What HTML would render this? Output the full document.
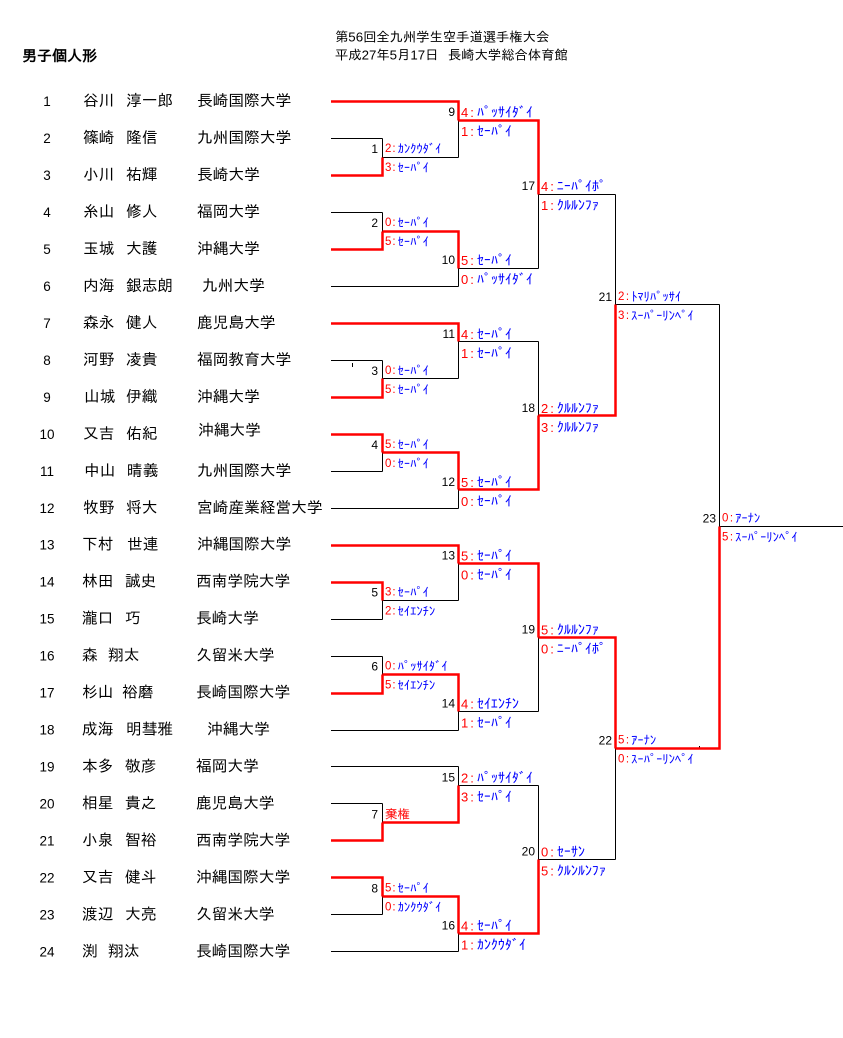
<!DOCTYPE html>
<html><head><meta charset="utf-8">
<style>
html,body{margin:0;padding:0;background:#fff;}
svg{display:block;}
text{font-family:"Liberation Sans","IPAGothic","Noto Sans CJK JP",sans-serif;dominant-baseline:central;fill:#000;}
.num{font-size:13.5px;text-anchor:middle;}
.nm{font-size:15.7px;}
.ttl{font-size:13.3px;}
.hd{font-size:15px;font-weight:bold;}
.n{font-size:12px;text-anchor:end;}
.r1{fill:#f00;font-size:11.5px;}
.b1{fill:#00f;font-size:12.5px;}
.r2{fill:#f00;font-size:13px;}
.b2{fill:#00f;font-size:14px;}
.kk{fill:#f00;font-size:12.5px;}
</style></head><body>
<svg width="843" height="1038" viewBox="0 0 843 1038" xmlns="http://www.w3.org/2000/svg">
<rect width="843" height="1038" fill="#fff"/>

<!-- header -->
<text class="hd" x="22" y="56.5">男子個人形</text>
<text class="ttl" x="335" y="37">第56回全九州学生空手道選手権大会</text>
<text class="ttl" x="335" y="55">平成27年5月17日</text>
<text class="ttl" x="448" y="55">長崎大学総合体育館</text>

<!-- black bracket lines -->
<path fill="none" stroke="#000" stroke-width="1" d="
M331 138.5H382.5 M331 175.5H382.5 M331 212.5H382.5 M331 249.5H382.5
M331 360.5H382.5 M331 397.5H382.5 M331 434.5H382.5 M331 471.5H382.5
M331 582.5H382.5 M331 619.5H382.5 M331 656.5H382.5 M331 693.5H382.5
M331 803.5H382.5 M331 840.5H382.5 M331 877.5H382.5 M331 914.5H382.5
M331 101.5H458.5 M331 286.5H458.5 M331 323.5H458.5 M331 508.5H458.5
M331 545.5H458.5 M331 730.5H458.5 M331 766.5H458.5 M331 951.5H458.5
M382.5 138.5V175.5 M382.5 212.5V249.5 M382.5 360.5V397.5 M382.5 434.5V471.5
M382.5 582.5V619.5 M382.5 656.5V693.5 M382.5 803.5V840.5 M382.5 877.5V914.5
M382.5 157.5H458.5 M382.5 231.5H458.5 M382.5 378.5H458.5 M382.5 452.5H458.5
M382.5 600.5H458.5 M382.5 674.5H458.5 M382.5 822.5H458.5 M382.5 896.5H458.5
M458.5 101.5V157.5 M458.5 231.5V286.5 M458.5 323.5V378.5 M458.5 452.5V508.5
M458.5 545.5V600.5 M458.5 674.5V730.5 M458.5 766.5V822.5 M458.5 896.5V951.5
M458.5 120.5H538.5 M458.5 268.5H538.5 M458.5 341.5H538.5 M458.5 489.5H538.5
M458.5 563.5H538.5 M458.5 711.5H538.5 M458.5 785.5H538.5 M458.5 933.5H538.5
M538.5 120.5V268.5 M538.5 341.5V489.5 M538.5 563.5V711.5 M538.5 785.5V933.5
M538.5 194.5H615.5 M538.5 415.5H615.5 M538.5 637.5H615.5 M538.5 859.5H615.5
M615.5 194.5V415.5 M615.5 637.5V859.5
M615.5 304.5H719.5 M615.5 748.5H719.5
M719.5 304.5V748.5
M719.5 526.5H843
M352.5 363V367
M699.5 746V748
"/>

<!-- red winner paths -->
<g fill="none" stroke="#f00" stroke-width="2.5" stroke-linejoin="miter">
<polyline points="331,175.5 382.5,175.5 382.5,157.5"/>
<polyline points="331,249.5 382.5,249.5 382.5,231.5"/>
<polyline points="331,397.5 382.5,397.5 382.5,378.5"/>
<polyline points="331,434.5 382.5,434.5 382.5,452.5"/>
<polyline points="331,582.5 382.5,582.5 382.5,600.5"/>
<polyline points="331,693.5 382.5,693.5 382.5,674.5"/>
<polyline points="331,840.5 382.5,840.5 382.5,822.5"/>
<polyline points="331,877.5 382.5,877.5 382.5,896.5"/>
<polyline points="331,101.5 458.5,101.5 458.5,120.5"/>
<polyline points="382.5,231.5 458.5,231.5 458.5,268.5"/>
<polyline points="331,323.5 458.5,323.5 458.5,341.5"/>
<polyline points="382.5,452.5 458.5,452.5 458.5,489.5"/>
<polyline points="331,545.5 458.5,545.5 458.5,563.5"/>
<polyline points="382.5,674.5 458.5,674.5 458.5,711.5"/>
<polyline points="382.5,822.5 458.5,822.5 458.5,785.5"/>
<polyline points="382.5,896.5 458.5,896.5 458.5,933.5"/>
<polyline points="458.5,120.5 538.5,120.5 538.5,194.5"/>
<polyline points="458.5,489.5 538.5,489.5 538.5,415.5"/>
<polyline points="458.5,563.5 538.5,563.5 538.5,637.5"/>
<polyline points="458.5,933.5 538.5,933.5 538.5,859.5"/>
<polyline points="538.5,415.5 615.5,415.5 615.5,304.5"/>
<polyline points="538.5,637.5 615.5,637.5 615.5,748.5"/>
<polyline points="615.5,748.5 719.5,748.5 719.5,526.5"/>
</g>

<!-- player list -->
<g>
<text class="num" x="47" y="101.7">1</text><text class="nm" x="83" y="101.7">谷川</text><text class="nm" x="126" y="101.7">淳一郎</text><text class="nm" x="197" y="101.7">長崎国際大学</text>
<text class="num" x="47" y="138.7">2</text><text class="nm" x="83" y="138.7">篠崎</text><text class="nm" x="126" y="138.7">隆信</text><text class="nm" x="197" y="138.7">九州国際大学</text>
<text class="num" x="47" y="175.6">3</text><text class="nm" x="83" y="175.6">小川</text><text class="nm" x="126" y="175.6">祐輝</text><text class="nm" x="197" y="175.6">長崎大学</text>
<text class="num" x="47" y="212.6">4</text><text class="nm" x="83" y="212.6">糸山</text><text class="nm" x="126" y="212.6">修人</text><text class="nm" x="197" y="212.6">福岡大学</text>
<text class="num" x="47" y="249.5">5</text><text class="nm" x="83" y="249.5">玉城</text><text class="nm" x="126" y="249.5">大護</text><text class="nm" x="197" y="249.5">沖縄大学</text>
<text class="num" x="47" y="286.5">6</text><text class="nm" x="83" y="286.5">内海</text><text class="nm" x="126" y="286.5">銀志朗</text><text class="nm" x="202" y="286.5">九州大学</text>
<text class="num" x="47" y="323.5">7</text><text class="nm" x="83" y="323.5">森永</text><text class="nm" x="126" y="323.5">健人</text><text class="nm" x="197" y="323.5">鹿児島大学</text>
<text class="num" x="47" y="360.4">8</text><text class="nm" x="83" y="360.4">河野</text><text class="nm" x="126" y="360.4">凌貴</text><text class="nm" x="197" y="360.4">福岡教育大学</text>
<text class="num" x="47" y="397.4">9</text><text class="nm" x="84" y="397.4">山城</text><text class="nm" x="126" y="397.4">伊織</text><text class="nm" x="197" y="397.4">沖縄大学</text>
<text class="num" x="47" y="434.3">10</text><text class="nm" x="83" y="434.3">又吉</text><text class="nm" x="126" y="434.3">佑紀</text><text class="nm" x="198" y="431">沖縄大学</text>
<text class="num" x="47" y="471.3">11</text><text class="nm" x="84" y="471.3">中山</text><text class="nm" x="127" y="471.3">晴義</text><text class="nm" x="197" y="471.3">九州国際大学</text>
<text class="num" x="47" y="508.3">12</text><text class="nm" x="83" y="508.3">牧野</text><text class="nm" x="126" y="508.3">将大</text><text class="nm" x="197" y="508.3">宮崎産業経営大学</text>
<text class="num" x="47" y="545.2">13</text><text class="nm" x="82" y="545.2">下村</text><text class="nm" x="127" y="545.2">世連</text><text class="nm" x="197" y="545.2">沖縄国際大学</text>
<text class="num" x="47" y="582.2">14</text><text class="nm" x="82" y="582.2">林田</text><text class="nm" x="125" y="582.2">誠史</text><text class="nm" x="196" y="582.2">西南学院大学</text>
<text class="num" x="47" y="619.1">15</text><text class="nm" x="82" y="619.1">瀧口</text><text class="nm" x="125" y="619.1">巧</text><text class="nm" x="196" y="619.1">長崎大学</text>
<text class="num" x="47" y="656.1">16</text><text class="nm" x="82" y="656.1">森</text><text class="nm" x="108" y="656.1">翔太</text><text class="nm" x="196" y="656.1">久留米大学</text>
<text class="num" x="47" y="693.1">17</text><text class="nm" x="82" y="693.1">杉山</text><text class="nm" x="122" y="693.1">裕磨</text><text class="nm" x="196" y="693.1">長崎国際大学</text>
<text class="num" x="47" y="730">18</text><text class="nm" x="82" y="730">成海</text><text class="nm" x="126" y="730">明彗雅</text><text class="nm" x="207" y="730">沖縄大学</text>
<text class="num" x="47" y="767">19</text><text class="nm" x="82" y="767">本多</text><text class="nm" x="125" y="767">敬彦</text><text class="nm" x="196" y="767">福岡大学</text>
<text class="num" x="47" y="803.9">20</text><text class="nm" x="82" y="803.9">相星</text><text class="nm" x="125" y="803.9">貴之</text><text class="nm" x="196" y="803.9">鹿児島大学</text>
<text class="num" x="47" y="840.9">21</text><text class="nm" x="82" y="840.9">小泉</text><text class="nm" x="125" y="840.9">智裕</text><text class="nm" x="196" y="840.9">西南学院大学</text>
<text class="num" x="47" y="877.9">22</text><text class="nm" x="82" y="877.9">又吉</text><text class="nm" x="125" y="877.9">健斗</text><text class="nm" x="196" y="877.9">沖縄国際大学</text>
<text class="num" x="47" y="914.8">23</text><text class="nm" x="82" y="914.8">渡辺</text><text class="nm" x="125" y="914.8">大亮</text><text class="nm" x="196" y="914.8">久留米大学</text>
<text class="num" x="47" y="951.8">24</text><text class="nm" x="82" y="951.8">渕</text><text class="nm" x="108" y="951.8">翔汰</text><text class="nm" x="196" y="951.8">長崎国際大学</text>
</g>

<!-- match numbers -->
<g>
<text class="n" x="378" y="149.1">1</text>
<text class="n" x="378" y="223.1">2</text>
<text class="n" x="378" y="370.9">3</text>
<text class="n" x="378" y="444.8">4</text>
<text class="n" x="378" y="592.7">5</text>
<text class="n" x="378" y="666.6">6</text>
<text class="n" x="378" y="814.4">7</text>
<text class="n" x="378" y="888.3">8</text>
<text class="n" x="455" y="112.2">9</text>
<text class="n" x="455" y="260">10</text>
<text class="n" x="455" y="333.9">11</text>
<text class="n" x="455" y="481.8">12</text>
<text class="n" x="455" y="555.7">13</text>
<text class="n" x="455" y="703.5">14</text>
<text class="n" x="455" y="777.5">15</text>
<text class="n" x="455" y="925.3">16</text>
<text class="n" x="535" y="186.1">17</text>
<text class="n" x="535" y="407.9">18</text>
<text class="n" x="535" y="629.6">19</text>
<text class="n" x="535" y="851.4">20</text>
<text class="n" x="612" y="297">21</text>
<text class="n" x="612" y="740.5">22</text>
<text class="n" x="716" y="518.7">23</text>
</g>

<!-- round 1 scores -->
<g>
<text x="385" y="149.1"><tspan class="r1">2</tspan><tspan class="r1" dx="1">:</tspan><tspan class="b1" dx="2">ｶﾝｸｳﾀﾞｲ</tspan></text>
<text x="385" y="168.1"><tspan class="r1">3</tspan><tspan class="r1" dx="1">:</tspan><tspan class="b1" dx="2">ｾｰﾊﾟｲ</tspan></text>
<text x="385" y="223.1"><tspan class="r1">0</tspan><tspan class="r1" dx="1">:</tspan><tspan class="b1" dx="2">ｾｰﾊﾟｲ</tspan></text>
<text x="385" y="242.1"><tspan class="r1">5</tspan><tspan class="r1" dx="1">:</tspan><tspan class="b1" dx="2">ｾｰﾊﾟｲ</tspan></text>
<text x="385" y="370.9"><tspan class="r1">0</tspan><tspan class="r1" dx="1">:</tspan><tspan class="b1" dx="2">ｾｰﾊﾟｲ</tspan></text>
<text x="385" y="389.9"><tspan class="r1">5</tspan><tspan class="r1" dx="1">:</tspan><tspan class="b1" dx="2">ｾｰﾊﾟｲ</tspan></text>
<text x="385" y="444.8"><tspan class="r1">5</tspan><tspan class="r1" dx="1">:</tspan><tspan class="b1" dx="2">ｾｰﾊﾟｲ</tspan></text>
<text x="385" y="463.8"><tspan class="r1">0</tspan><tspan class="r1" dx="1">:</tspan><tspan class="b1" dx="2">ｾｰﾊﾟｲ</tspan></text>
<text x="385" y="592.7"><tspan class="r1">3</tspan><tspan class="r1" dx="1">:</tspan><tspan class="b1" dx="2">ｾｰﾊﾟｲ</tspan></text>
<text x="385" y="611.7"><tspan class="r1">2</tspan><tspan class="r1" dx="1">:</tspan><tspan class="b1" dx="2">ｾｲｴﾝﾁﾝ</tspan></text>
<text x="385" y="666.6"><tspan class="r1">0</tspan><tspan class="r1" dx="1">:</tspan><tspan class="b1" dx="2">ﾊﾟｯｻｲﾀﾞｲ</tspan></text>
<text x="385" y="685.6"><tspan class="r1">5</tspan><tspan class="r1" dx="1">:</tspan><tspan class="b1" dx="2">ｾｲｴﾝﾁﾝ</tspan></text>
<text class="kk" x="385" y="814.4">棄権</text>
<text x="385" y="888.3"><tspan class="r1">5</tspan><tspan class="r1" dx="1">:</tspan><tspan class="b1" dx="2">ｾｰﾊﾟｲ</tspan></text>
<text x="385" y="907.3"><tspan class="r1">0</tspan><tspan class="r1" dx="1">:</tspan><tspan class="b1" dx="2">ｶﾝｸｳﾀﾞｲ</tspan></text>
</g>

<!-- round 2 scores -->
<g>
<text x="461" y="112.2"><tspan class="r2">4</tspan><tspan class="r2" dx="2">:</tspan><tspan class="b2" dx="3">ﾊﾟｯｻｲﾀﾞｲ</tspan></text>
<text x="461" y="131.2"><tspan class="r2">1</tspan><tspan class="r2" dx="2">:</tspan><tspan class="b2" dx="3">ｾｰﾊﾟｲ</tspan></text>
<text x="461" y="260"><tspan class="r2">5</tspan><tspan class="r2" dx="2">:</tspan><tspan class="b2" dx="3">ｾｰﾊﾟｲ</tspan></text>
<text x="461" y="279"><tspan class="r2">0</tspan><tspan class="r2" dx="2">:</tspan><tspan class="b2" dx="3">ﾊﾟｯｻｲﾀﾞｲ</tspan></text>
<text x="461" y="333.9"><tspan class="r2">4</tspan><tspan class="r2" dx="2">:</tspan><tspan class="b2" dx="3">ｾｰﾊﾟｲ</tspan></text>
<text x="461" y="352.9"><tspan class="r2">1</tspan><tspan class="r2" dx="2">:</tspan><tspan class="b2" dx="3">ｾｰﾊﾟｲ</tspan></text>
<text x="461" y="481.8"><tspan class="r2">5</tspan><tspan class="r2" dx="2">:</tspan><tspan class="b2" dx="3">ｾｰﾊﾟｲ</tspan></text>
<text x="461" y="500.8"><tspan class="r2">0</tspan><tspan class="r2" dx="2">:</tspan><tspan class="b2" dx="3">ｾｰﾊﾟｲ</tspan></text>
<text x="461" y="555.7"><tspan class="r2">5</tspan><tspan class="r2" dx="2">:</tspan><tspan class="b2" dx="3">ｾｰﾊﾟｲ</tspan></text>
<text x="461" y="574.7"><tspan class="r2">0</tspan><tspan class="r2" dx="2">:</tspan><tspan class="b2" dx="3">ｾｰﾊﾟｲ</tspan></text>
<text x="461" y="703.5"><tspan class="r2">4</tspan><tspan class="r2" dx="2">:</tspan><tspan class="b2" dx="3">ｾｲｴﾝﾁﾝ</tspan></text>
<text x="461" y="722.5"><tspan class="r2">1</tspan><tspan class="r2" dx="2">:</tspan><tspan class="b2" dx="3">ｾｰﾊﾟｲ</tspan></text>
<text x="461" y="777.5"><tspan class="r2">2</tspan><tspan class="r2" dx="2">:</tspan><tspan class="b2" dx="3">ﾊﾟｯｻｲﾀﾞｲ</tspan></text>
<text x="461" y="796.5"><tspan class="r2">3</tspan><tspan class="r2" dx="2">:</tspan><tspan class="b2" dx="3">ｾｰﾊﾟｲ</tspan></text>
<text x="461" y="925.3"><tspan class="r2">4</tspan><tspan class="r2" dx="2">:</tspan><tspan class="b2" dx="3">ｾｰﾊﾟｲ</tspan></text>
<text x="461" y="944.3"><tspan class="r2">1</tspan><tspan class="r2" dx="2">:</tspan><tspan class="b2" dx="3">ｶﾝｸｳﾀﾞｲ</tspan></text>
</g>

<!-- round 3 scores -->
<g>
<text x="541" y="186.1"><tspan class="r2">4</tspan><tspan class="r2" dx="2">:</tspan><tspan class="b2" dx="3">ﾆｰﾊﾟｲﾎﾟ</tspan></text>
<text x="541" y="205.1"><tspan class="r2">1</tspan><tspan class="r2" dx="2">:</tspan><tspan class="b2" dx="3">ｸﾙﾙﾝﾌｧ</tspan></text>
<text x="541" y="407.9"><tspan class="r2">2</tspan><tspan class="r2" dx="2">:</tspan><tspan class="b2" dx="3">ｸﾙﾙﾝﾌｧ</tspan></text>
<text x="541" y="426.9"><tspan class="r2">3</tspan><tspan class="r2" dx="2">:</tspan><tspan class="b2" dx="3">ｸﾙﾙﾝﾌｧ</tspan></text>
<text x="541" y="629.6"><tspan class="r2">5</tspan><tspan class="r2" dx="2">:</tspan><tspan class="b2" dx="3">ｸﾙﾙﾝﾌｧ</tspan></text>
<text x="541" y="648.6"><tspan class="r2">0</tspan><tspan class="r2" dx="2">:</tspan><tspan class="b2" dx="3">ﾆｰﾊﾟｲﾎﾟ</tspan></text>
<text x="541" y="851.4"><tspan class="r2">0</tspan><tspan class="r2" dx="2">:</tspan><tspan class="b2" dx="3">ｾｰｻﾝ</tspan></text>
<text x="541" y="870.4"><tspan class="r2">5</tspan><tspan class="r2" dx="2">:</tspan><tspan class="b2" dx="3">ｸﾙﾝﾙﾝﾌｧ</tspan></text>
</g>

<!-- round 4 / final scores -->
<g>
<text x="618" y="297"><tspan class="r1">2</tspan><tspan class="r1" dx="1.5">:</tspan><tspan class="b1" dx="2">ﾄﾏﾘﾊﾟｯｻｲ</tspan></text>
<text x="618" y="316"><tspan class="r1">3</tspan><tspan class="r1" dx="1.5">:</tspan><tspan class="b1" dx="2">ｽｰﾊﾟｰﾘﾝﾍﾟｲ</tspan></text>
<text x="618" y="740.5"><tspan class="r1">5</tspan><tspan class="r1" dx="1.5">:</tspan><tspan class="b1" dx="2">ｱｰﾅﾝ</tspan></text>
<text x="618" y="759.5"><tspan class="r1">0</tspan><tspan class="r1" dx="1.5">:</tspan><tspan class="b1" dx="2">ｽｰﾊﾟｰﾘﾝﾍﾟｲ</tspan></text>
<text x="722" y="518.7"><tspan class="r1">0</tspan><tspan class="r1" dx="1.5">:</tspan><tspan class="b1" dx="2">ｱｰﾅﾝ</tspan></text>
<text x="722" y="537.7"><tspan class="r1">5</tspan><tspan class="r1" dx="1.5">:</tspan><tspan class="b1" dx="2">ｽｰﾊﾟｰﾘﾝﾍﾟｲ</tspan></text>
</g>
</svg>
</body></html>
